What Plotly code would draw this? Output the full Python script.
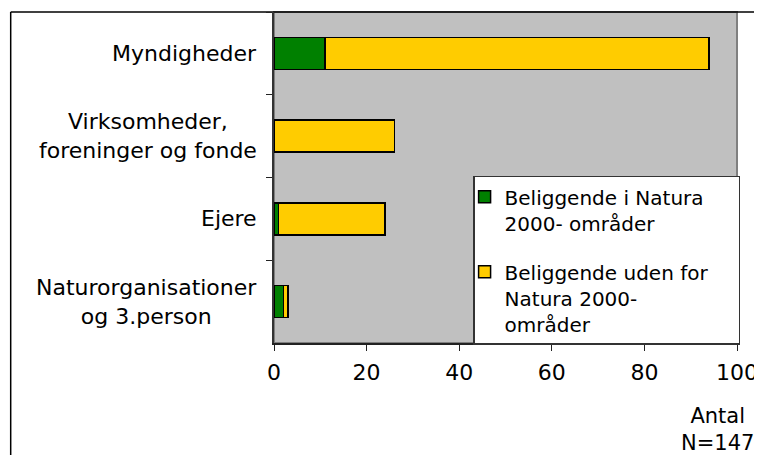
import plotly.graph_objects as go

# categories top to bottom
categories = ["Myndigheder", "Virksomheder,<br>foreninger og fonde", "Ejere",
              "Naturorganisationer<br>og 3.person"]
inside_natura = [11, 0, 1, 2]
outside_natura = [83, 26, 23, 1]
x_ticks = [0, 20, 40, 60, 80, 100]

FONT = "DejaVu Sans"
FS = 22
PAD = "\u00a0" * 4  # widens the legend box a little, like the original

fig = go.Figure()
fig.add_trace(go.Bar(
    y=categories, x=inside_natura, orientation="h",
    name="Beliggende i Natura<br>2000- områder", legendgroup="a",
    marker=dict(color="#008000", line=dict(color="#000000", width=1.5)),
))
fig.add_trace(go.Bar(
    y=categories, x=outside_natura, orientation="h",
    name="Beliggende uden for" + PAD + "<br>Natura 2000-<br>områder", legendgroup="b",
    marker=dict(color="#FFCC00", line=dict(color="#000000", width=1.5)),
))

# category labels, centred lines, left of the axis
annotations = []
for c in categories:
    annotations.append(dict(
        xref="paper", yref="y", x=-0.032, y=c, text=c, showarrow=False,
        xanchor="right", yanchor="middle", align="center",
        font=dict(family=FONT, size=FS, color="#000000"),
    ))
annotations.append(dict(
    xref="paper", yref="paper", x=0.957, y=-0.178, text="Antal<br>N=147",
    showarrow=False, xanchor="center", yanchor="top", align="center",
    font=dict(family=FONT, size=21, color="#000000"),
))

shapes = [
    # plot area border (top/right grey)
    dict(type="rect", xref="paper", yref="paper", x0=0, x1=1, y0=0, y1=1,
         line=dict(color="#808080", width=2), layer="below"),
    # outer frame
    dict(type="line", xref="paper", yref="paper", x0=-0.5687, x1=1.1, y0=1, y1=1,
         line=dict(color="#000000", width=1.5), layer="below"),
    dict(type="line", xref="paper", yref="paper", x0=-0.5687, x1=-0.5687, y0=1, y1=-0.5,
         line=dict(color="#000000", width=1.5), layer="below"),
]

# page body has an 8px margin, so the figure is 8px smaller than the window
fig.update_layout(
    width=754, height=447,
    margin=dict(l=266, r=22, t=4, b=112),
    barmode="stack", bargap=0.615,
    plot_bgcolor="#C0C0C0", paper_bgcolor="#FFFFFF",
    font=dict(family=FONT, size=FS, color="#000000"),
    showlegend=True,
    legend=dict(
        x=0.43, y=0.505, xanchor="left", yanchor="top",
        bgcolor="#FFFFFF", bordercolor="#333333", borderwidth=1.5,
        traceorder="grouped", tracegroupgap=20, valign="top",
        font=dict(family=FONT, size=20, color="#000000"),
        indentation=-10,
    ),
    xaxis=dict(
        range=[0, 100], tickvals=x_ticks, ticks="outside", ticklen=6,
        tickcolor="#222222", showline=True, linecolor="#222222", linewidth=1.5,
        showgrid=False, zeroline=False, fixedrange=True, ticklabelstandoff=3,
    ),
    yaxis=dict(
        categoryorder="array", categoryarray=categories, autorange="reversed",
        tickson="boundaries", ticks="outside", ticklen=6, tickcolor="#222222",
        showticklabels=False, showline=True, linecolor="#333333", linewidth=1.5,
        showgrid=False, zeroline=False, fixedrange=True,
    ),
    annotations=annotations,
    shapes=shapes,
)

fig.write_html("out.html")
